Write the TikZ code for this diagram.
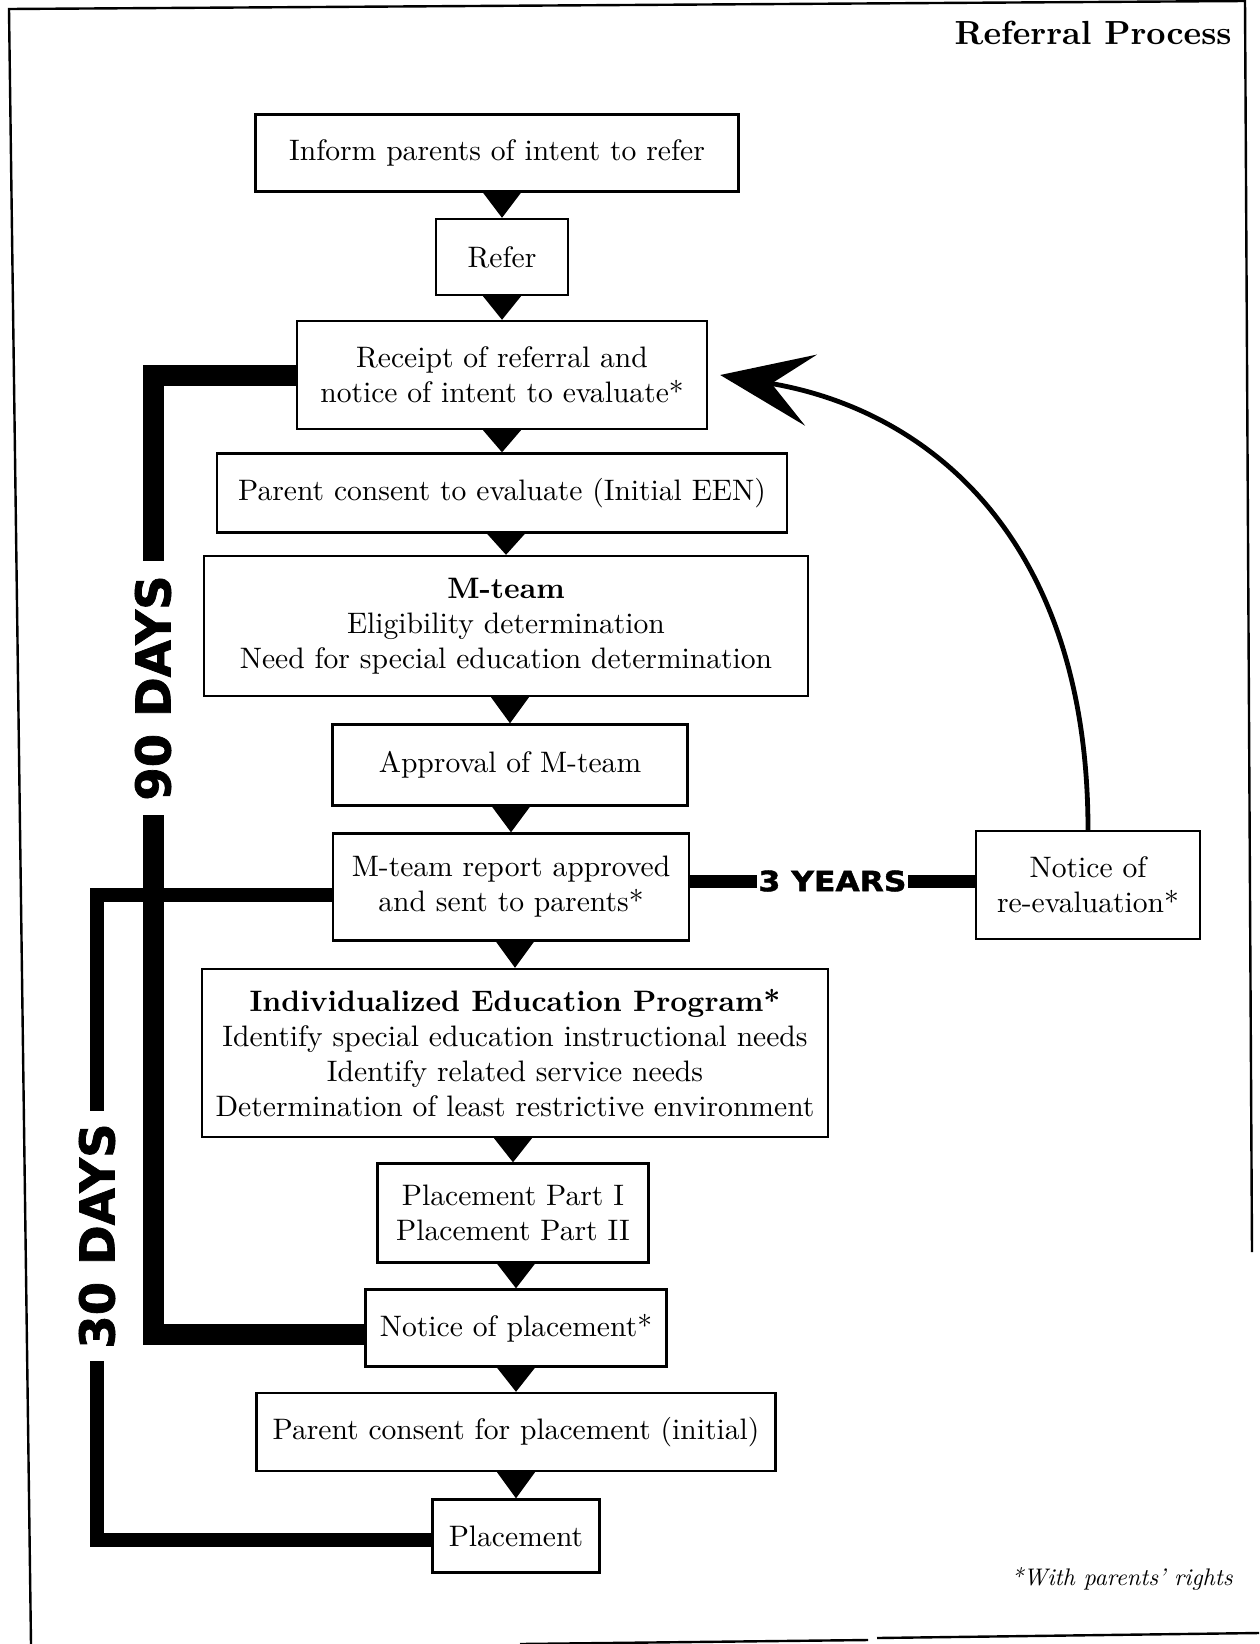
\documentclass[tikz,border=0pt]{standalone}
\usepackage{fontspec}
\usepackage{graphicx}
\setmainfont{lmroman10-regular.otf}[BoldFont=lmroman10-bold.otf, ItalicFont=lmroman10-italic.otf]
\newfontfamily\daysfont{DejaVu Sans}[BoldFeatures={FakeBold=1.5}]
\usetikzlibrary{calc, arrows.meta}

\tikzset{
  stepbox/.style={draw, line width=1.2pt, align=center, inner sep=2pt,
    font=\fontsize{14.8}{17.5}\selectfont},
  daybar/.style={line width=10.5pt, line join=miter},
  monthbar/.style={line width=7pt, line join=miter},
  daylabel/.style={fill=white, inner xsep=7pt, inner ysep=1pt,
    font=\daysfont\bfseries\fontsize{24}{24}\selectfont},
  frameline/.style={line width=1.2pt}
}

\begin{document}
\begin{tikzpicture}[x=0.5pt, y=-0.5pt]
  \useasboundingbox (0,0) rectangle (1259,1644);
  % scanned frame
  \draw[frameline] (31,1644) -- (9,9) -- (1245,1) -- (1252,1252);
  \draw[frameline] (520,1644) -- (868,1640);
  \draw[frameline] (877,1638) -- (1259,1633);

  \node[anchor=base east, inner sep=0pt, font=\fontsize{16.7}{20}\selectfont\bfseries] (title) at (1232,44) {Referral Process};

  % main column
  \node[stepbox, minimum width=241.5pt, minimum height=38.5pt] (inform) at (497,153) {Inform parents of intent to refer};
  \node[stepbox, minimum width=66pt, minimum height=38pt] (refer) at (502,257) {Refer};
  \node[stepbox, minimum width=205pt, minimum height=54pt] (rec) at (502,375) {Receipt of referral and\\notice of intent to evaluate*};
  \node[stepbox, minimum width=285pt, minimum height=39.5pt] (evalok) at (502,493) {Parent consent to evaluate (Initial EEN)};
  \node[stepbox, minimum width=302pt, minimum height=70pt] (mteam) at (506,626) {\textbf{M-team}\\Eligibility determination\\Need for special education determination};
  \node[stepbox, minimum width=177.5pt, minimum height=40.5pt] (approve) at (510,765) {Approval of M-team};
  \node[stepbox, minimum width=178pt, minimum height=53.5pt] (report) at (511,887) {M-team report approved\\and sent to parents*};
  \node[stepbox, minimum width=313pt, minimum height=84pt] (iep) at (515,1053) {\textbf{Individualized Education Program*}\\Identify special education instructional needs\\Identify related service needs\\Determination of least restrictive environment};
  \node[stepbox, minimum width=135.5pt, minimum height=49.5pt] (parts) at (513,1213) {Placement Part I\\Placement Part II};
  \node[stepbox, minimum width=150.5pt, minimum height=38.5pt] (notice) at (516,1328) {Notice of placement*};
  \node[stepbox, minimum width=259.5pt, minimum height=39pt] (placeok) at (516,1432) {Parent consent for placement (initial)};
  \node[stepbox, minimum width=83.5pt, minimum height=36.5pt] (place) at (516,1536) {Placement};

  \node[stepbox, minimum width=112pt, minimum height=54pt] (reeval) at (1088,885) {Notice of\\re-evaluation*};

  % wedge connectors
  \foreach \a/\b in {inform/refer, refer/rec, rec/evalok, evalok/mteam, mteam/approve, approve/report,
                     report/iep, iep/parts, parts/notice, notice/placeok, placeok/place}
    \fill ($(\a.south -| \b.north)+(-9.5pt,0)$) -- ($(\a.south -| \b.north)+(9.5pt,0)$) -- (\b.north) -- cycle;

  % time brackets
  \coordinate (bar90) at (153,688);
  \coordinate (bar30) at (97,1236);
  \draw[daybar] (rec.west) -| (bar90) |- ([yshift=-3pt]notice.west);
  \draw[monthbar] ([yshift=-4pt]report.west) -| (bar30) |- ([yshift=-2pt]place.west);
  \node[daylabel, rotate=90] (days90) at (bar90) {90 DAYS};
  \node[daylabel, rotate=90, inner xsep=6pt] (days30) at (bar30) {30 DAYS};

  \draw[line width=6.5pt] ([yshift=3pt]report.east) -- ([yshift=3pt]report.east -| reeval.west)
    node[midway, fill=white, inner xsep=1pt, inner ysep=1pt,
         font=\daysfont\bfseries\fontsize{14}{14}\selectfont] (years) {\scalebox{1.12}[1]{3 YEARS}};

  % re-evaluation loop
  \draw[line width=2.4pt, -{Stealth[length=46pt, width=36pt, inset=20pt]}]
    (reeval.north) .. controls +(0,-290) and (930,410) .. ([xshift=6pt]rec.east);

  \node[anchor=base east, inner sep=0pt, font=\fontsize{12}{14}\selectfont\itshape] (note) at (1233,1585) {*With parents' rights};
\end{tikzpicture}
\end{document}
